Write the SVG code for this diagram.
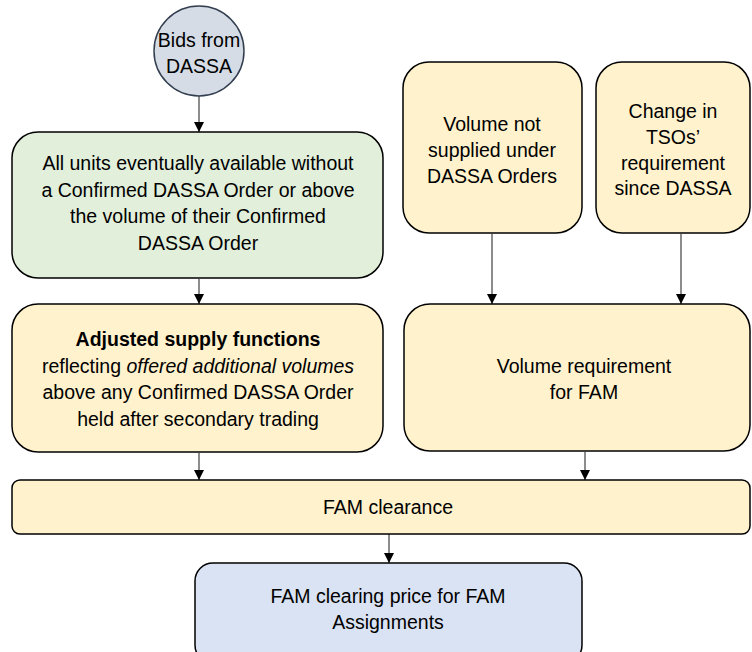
<svg xmlns="http://www.w3.org/2000/svg" width="752" height="652" viewBox="0 0 752 652">
<style>
.box{stroke:#000;stroke-width:1.5}
.y{fill:#fff2cc}
.g{fill:#e2efda}
.b{fill:#dae3f3}
text{font-family:"Liberation Sans",Arial,sans-serif;font-size:19.5px;fill:#000;text-anchor:middle}
.c{stroke:#404040;stroke-width:1.2;fill:none;marker-end:url(#ah)}
</style>
<defs>
<marker id="ah" viewBox="0 0 10 10" refX="10" refY="5" markerWidth="10" markerHeight="10" markerUnits="userSpaceOnUse" orient="auto">
<path d="M0,0 L10,5 L0,10 z" fill="#000"/>
</marker>
</defs>
<rect width="752" height="652" fill="#fff"/>
<g id="connectors">
<line class="c" x1="199" y1="96" x2="199" y2="132"/>
<line class="c" x1="199" y1="279" x2="199" y2="304"/>
<line class="c" x1="492" y1="234" x2="492" y2="304"/>
<line class="c" x1="681" y1="234" x2="681" y2="304"/>
<line class="c" x1="199" y1="453" x2="199" y2="480"/>
<line class="c" x1="585" y1="452" x2="585" y2="480"/>
<line class="c" x1="389" y1="534" x2="389" y2="563"/>
</g>
<g id="bids">
<circle cx="199" cy="51" r="45" fill="#d6dce5" stroke="#333f50" stroke-width="1.5"/>
<text x="199" y="47" font-size="18.5">Bids from</text>
<text x="199" y="73" font-size="18.5">DASSA</text>
</g>
<g id="allunits">
<rect class="box g" x="12" y="132" width="371" height="146" rx="26"/>
<text x="198" y="170">All units eventually available without</text>
<text x="198" y="197">a Confirmed DASSA Order or above</text>
<text x="198" y="223">the volume of their Confirmed</text>
<text x="198" y="250">DASSA Order</text>
</g>
<g id="notsupplied">
<rect class="box y" x="403" y="62" width="179" height="171" rx="26"/>
<text x="492" y="131">Volume not</text>
<text x="492" y="157">supplied under</text>
<text x="492" y="183">DASSA Orders</text>
</g>
<g id="change">
<rect class="box y" x="596" y="62" width="154" height="171" rx="26"/>
<text x="673" y="118">Change in</text>
<text x="673" y="144">TSOs’</text>
<text x="673" y="170">requirement</text>
<text x="673" y="195">since DASSA</text>
</g>
<g id="adjusted">
<rect class="box y" x="12" y="304" width="371" height="148" rx="26"/>
<text x="198" y="346" font-weight="bold">Adjusted supply functions</text>
<text x="198" y="373">reflecting <tspan font-style="italic">offered additional volumes</tspan></text>
<text x="198" y="399">above any Confirmed DASSA Order</text>
<text x="198" y="426">held after secondary trading</text>
</g>
<g id="volreq">
<rect class="box y" x="404" y="304" width="346" height="147" rx="26"/>
<text x="584" y="373">Volume requirement</text>
<text x="584" y="399">for FAM</text>
</g>
<g id="clearance">
<rect class="box y" x="12" y="480" width="738" height="54" rx="8"/>
<text x="388" y="514">FAM clearance</text>
</g>
<g id="price">
<rect class="box b" x="195" y="563" width="387" height="100" rx="18"/>
<text x="388" y="603">FAM clearing price for FAM</text>
<text x="388" y="629">Assignments</text>
</g>
</svg>
